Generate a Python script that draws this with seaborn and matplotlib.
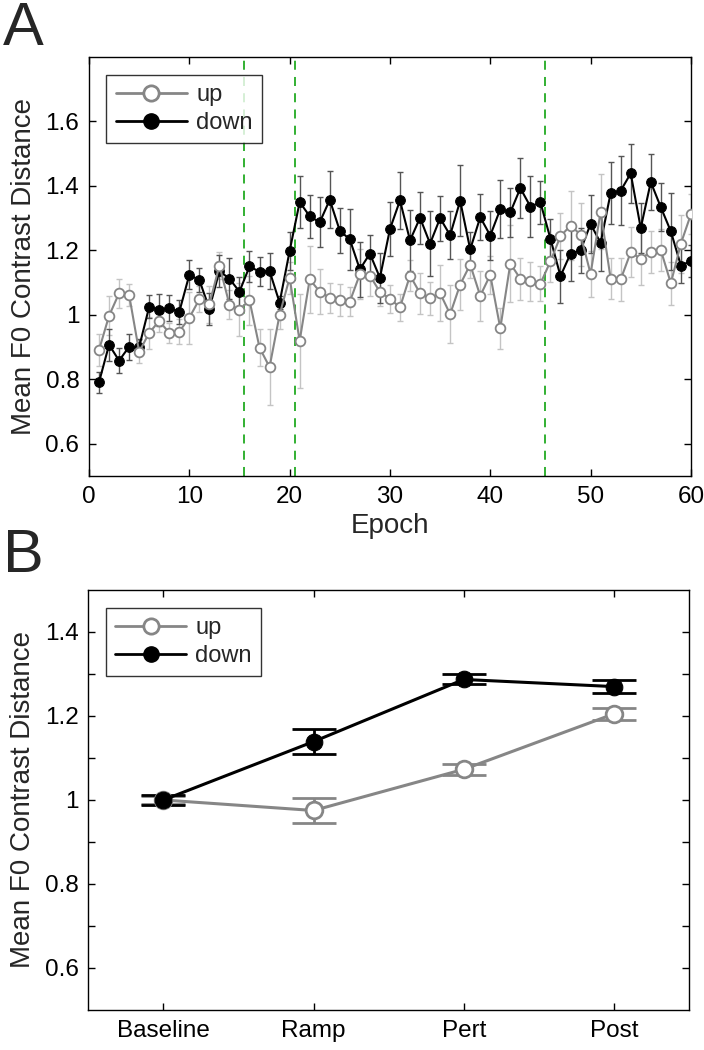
import numpy as np
import pandas as pd
import matplotlib.pyplot as plt
import seaborn as sns
from matplotlib.lines import Line2D

# Panel A data: mean F0 contrast distance per epoch
epochs = list(range(1, 61))
up_mean = [0.891, 0.997, 1.067, 1.062, 0.885, 0.944, 0.981, 0.944, 0.948, 0.991,
           1.048, 1.033, 1.153, 1.032, 1.016, 1.045, 0.898, 0.838, 1.000, 1.115,
           0.919, 1.110, 1.072, 1.053, 1.046, 1.041, 1.126, 1.122, 1.071, 1.050,
           1.023, 1.122, 1.067, 1.052, 1.067, 1.002, 1.094, 1.156, 1.059, 1.124,
           0.958, 1.159, 1.112, 1.104, 1.097, 1.166, 1.244, 1.277, 1.249, 1.127,
           1.320, 1.112, 1.110, 1.194, 1.174, 1.195, 1.201, 1.098, 1.221, 1.312]
up_err = [0.050, 0.060, 0.045, 0.035, 0.036, 0.050, 0.035, 0.030, 0.040, 0.080,
          0.040, 0.058, 0.043, 0.044, 0.083, 0.077, 0.057, 0.118, 0.044, 0.050,
          0.145, 0.104, 0.070, 0.046, 0.050, 0.045, 0.077, 0.065, 0.044, 0.044,
          0.043, 0.049, 0.064, 0.051, 0.087, 0.090, 0.079, 0.043, 0.077, 0.060,
          0.064, 0.120, 0.065, 0.060, 0.054, 0.064, 0.072, 0.108, 0.098, 0.072,
          0.117, 0.064, 0.067, 0.077, 0.082, 0.064, 0.064, 0.066, 0.090, 0.062]
down_mean = [0.791, 0.907, 0.858, 0.901, 0.900, 1.025, 1.015, 1.021, 1.009, 1.124,
             1.108, 1.019, 1.136, 1.112, 1.072, 1.150, 1.134, 1.136, 1.038, 1.198,
             1.350, 1.306, 1.287, 1.357, 1.261, 1.234, 1.141, 1.190, 1.115, 1.266,
             1.355, 1.231, 1.301, 1.221, 1.300, 1.247, 1.354, 1.203, 1.303, 1.246,
             1.328, 1.318, 1.393, 1.336, 1.349, 1.236, 1.120, 1.190, 1.200, 1.282,
             1.223, 1.378, 1.385, 1.439, 1.269, 1.412, 1.334, 1.259, 1.153, 1.167]
down_err = [0.033, 0.050, 0.040, 0.040, 0.025, 0.035, 0.050, 0.040, 0.037, 0.045,
            0.037, 0.050, 0.050, 0.063, 0.044, 0.048, 0.046, 0.055, 0.020, 0.060,
            0.080, 0.067, 0.078, 0.089, 0.070, 0.095, 0.086, 0.057, 0.078, 0.083,
            0.088, 0.095, 0.080, 0.100, 0.070, 0.075, 0.110, 0.054, 0.072, 0.075,
            0.090, 0.075, 0.094, 0.095, 0.067, 0.060, 0.082, 0.085, 0.070, 0.090,
            0.088, 0.097, 0.107, 0.092, 0.078, 0.087, 0.075, 0.120, 0.054, 0.050]
phase_bounds = [15.5, 20.5, 45.5]

# Panel B data: phase means
phases = ['Baseline', 'Ramp', 'Pert', 'Post']
up_phase = [1.000, 0.975, 1.073, 1.205]
up_phase_err = [0.010, 0.030, 0.013, 0.015]
down_phase = [1.000, 1.139, 1.287, 1.270]
down_phase_err = [0.013, 0.030, 0.012, 0.015]

sns.set_style('white')
plt.rcParams['font.family'] = ['Liberation Sans', 'DejaVu Sans']

UP_LINE = '#868686'
UP_BAR = '#c4c4c4'
DOWN_LINE = '#000000'
DOWN_BAR = '#555555'
TICK_FS = 17.5
LABEL_FS = 20


def style_axes(ax):
    for s in ax.spines.values():
        s.set_visible(True)
        s.set_color('black')
        s.set_linewidth(1.0)
    ax.tick_params(which='both', direction='in', length=5, width=1,
                   top=True, right=True, bottom=True, left=True,
                   colors='black')
    ax.tick_params(which='major', labelsize=TICK_FS, pad=7)


def fmt(v):
    return '1' if abs(v - 1) < 1e-9 else f'{v:.1f}'


def add_legend(ax):
    handles = [
        Line2D([], [], color=UP_LINE, lw=2, marker='o', markersize=11,
               markerfacecolor='white', markeredgecolor=UP_LINE, markeredgewidth=2),
        Line2D([], [], color=DOWN_LINE, lw=2, marker='o', markersize=11,
               markerfacecolor='black', markeredgecolor='black'),
    ]
    leg = ax.legend(handles, ['up', 'down'], loc='upper left',
                    bbox_to_anchor=(0.029, 0.958), fontsize=17, frameon=True,
                    fancybox=False, edgecolor='black', handlelength=3.0,
                    handletextpad=0.4, borderpad=0.4, labelspacing=0.25,
                    borderaxespad=0)
    leg.get_frame().set_linewidth(1.0)


fig = plt.figure(figsize=(7.04, 10.5), dpi=100)

# ---- Panel A ----
ax1 = fig.add_axes([0.1264, 0.5467, 0.855, 0.399])
ax1.errorbar(epochs, up_mean, yerr=up_err, fmt='none', ecolor=UP_BAR,
             elinewidth=1, capsize=2.5, zorder=1)
ax1.errorbar(epochs, down_mean, yerr=down_err, fmt='none', ecolor=DOWN_BAR,
             elinewidth=1, capsize=2.5, zorder=1)
sns.lineplot(x=epochs, y=down_mean, ax=ax1, color=DOWN_LINE, lw=1.5,
             marker='o', markersize=7, markerfacecolor='black',
             markeredgecolor='black', legend=False, zorder=3)
sns.lineplot(x=epochs, y=up_mean, ax=ax1, color=UP_LINE, lw=1.5,
             marker='o', markersize=7, markerfacecolor='white',
             markeredgecolor=UP_LINE, markeredgewidth=1.3, legend=False, zorder=4)
for b in phase_bounds:
    ax1.axvline(b, color='#22aa22', lw=1.3, ls=(0, (5, 4)), zorder=2)
ax1.set_xlim(0, 60)
ax1.set_ylim(0.5, 1.8)
yt = [0.6, 0.8, 1.0, 1.2, 1.4, 1.6]
ax1.set_yticks(yt)
ax1.set_yticklabels([fmt(v) for v in yt])
ax1.set_xticks(range(0, 61, 10))
style_axes(ax1)
ax1.set_xlabel('Epoch', fontsize=LABEL_FS, labelpad=4)
ax1.set_ylabel('Mean F0 Contrast Distance', fontsize=LABEL_FS, labelpad=6)
add_legend(ax1)

# ---- Panel B ----
ax2 = fig.add_axes([0.1254, 0.0381, 0.8533, 0.4])
xpos = list(range(len(phases)))
ax2.errorbar(xpos, up_phase, yerr=up_phase_err, fmt='none', ecolor=UP_LINE,
             elinewidth=2, capsize=16, capthick=2, zorder=1)
ax2.errorbar(xpos, down_phase, yerr=down_phase_err, fmt='none', ecolor=DOWN_LINE,
             elinewidth=2, capsize=16, capthick=2, zorder=1)
sns.lineplot(x=xpos, y=up_phase, ax=ax2, color=UP_LINE, lw=2.2, marker='o',
             markersize=12, markerfacecolor='white', markeredgecolor=UP_LINE,
             markeredgewidth=2, legend=False, zorder=3)
sns.lineplot(x=xpos, y=down_phase, ax=ax2, color=DOWN_LINE, lw=2.2, marker='o',
             markersize=12, markerfacecolor='black', markeredgecolor='black',
             legend=False, zorder=4)
ax2.set_xlim(-0.5, 3.5)
ax2.set_ylim(0.5, 1.5)
ax2.set_xticks(xpos)
ax2.set_xticklabels(phases)
yt2 = [0.6, 0.8, 1.0, 1.2, 1.4]
ax2.set_yticks(yt2)
ax2.set_yticklabels([fmt(v) for v in yt2])
ax2.set_yticks([0.7, 0.9, 1.1, 1.3], minor=True)
style_axes(ax2)
ax2.set_ylabel('Mean F0 Contrast Distance', fontsize=LABEL_FS, labelpad=6)
add_legend(ax2)

fig.text(0.004, 0.999, 'A', fontsize=44, va='top', ha='left')
fig.text(0.004, 0.497, 'B', fontsize=44, va='top', ha='left')

fig.savefig('out.png', dpi=100)
